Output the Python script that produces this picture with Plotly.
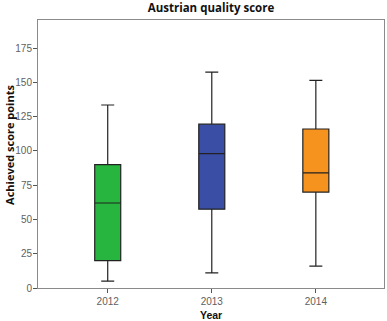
import plotly.graph_objects as go

years = ["2012", "2013", "2014"]
lower = [5, 11, 16]
q1 = [20, 57.5, 70]
median = [62, 98, 84]
q3 = [90, 119.5, 116]
upper = [133.5, 157.5, 151.5]
colors = ["#27b43f", "#3a4ea6", "#f6921e"]

fig = go.Figure()
for i, y in enumerate(years):
    fig.add_trace(go.Box(
        x=[y], q1=[q1[i]], median=[median[i]], q3=[q3[i]],
        lowerfence=[lower[i]], upperfence=[upper[i]],
        fillcolor=colors[i], line=dict(color="#222222", width=1.2),
        width=0.25, whiskerwidth=0.5, boxpoints=False, showlegend=False,
    ))

axis_common = dict(
    showline=True, linecolor="#8a8a8a", linewidth=1, mirror=True,
    ticks="outside", ticklen=4, tickcolor="#555555",
    tickfont=dict(family="Liberation Sans, Arial", size=10, color="#5f5f5f"),
    showgrid=False, zeroline=False, automargin=False,
)

fig.update_layout(
    width=387, height=321,
    margin=dict(l=38, r=3, t=20, b=33),
    paper_bgcolor="white", plot_bgcolor="white",
    boxmode="overlay",
    title=dict(text="<b>Austrian quality score</b>", x=0.5, xanchor="center",
               xref="paper", y=0.975, yanchor="middle",
               font=dict(family="Open Sans", size=11.5, color="#111111")),
    xaxis=dict(axis_common, type="category", range=[-0.67, 2.655]),
    yaxis=dict(axis_common, range=[0, 195.5], tickvals=[0, 25, 50, 75, 100, 125, 150, 175],
               ticklabelstandoff=-1),
    annotations=[
        dict(text="<b>Year</b>", xref="paper", yref="paper", x=0.5, y=0,
             yshift=-27, xanchor="center", yanchor="middle", showarrow=False,
             font=dict(family="Liberation Sans, Arial", size=10.5, color="#111111")),
        dict(text="<b>Achieved score points</b>", xref="paper", yref="paper",
             x=0, y=0.534, xshift=-28, textangle=-90, xanchor="center",
             yanchor="middle", showarrow=False,
             font=dict(family="Open Sans", size=11, color="#111111")),
    ],
)

fig.write_html("out.html", config={"displayModeBar": False},
               post_script="document.body.style.margin='0';document.body.style.overflow='hidden';")
